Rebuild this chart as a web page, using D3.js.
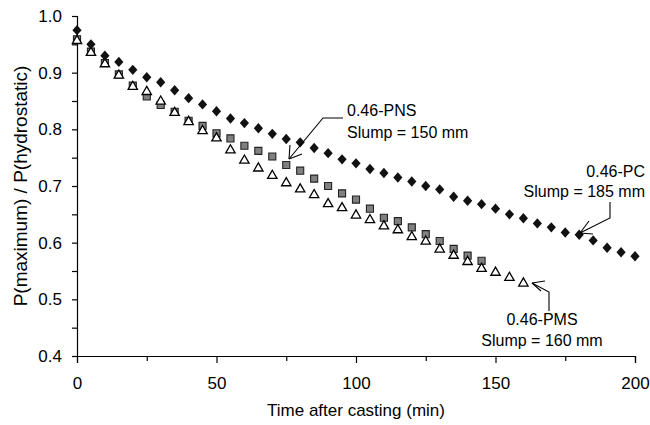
<!DOCTYPE html>
<html>
<head>
<meta charset="utf-8">
<script src="https://cdn.jsdelivr.net/npm/d3@7"></script>
<style>
  body { margin: 0; background: #fff; }
  svg { display: block; font-family: "Liberation Sans", Arial, sans-serif; }
  .axis text { font-size: 17px; fill: #000; }
  .axis path, .axis line { stroke: #000; stroke-width: 1.2; }
  .note { font-size: 16px; fill: #000; }
  .leader { stroke: #000; stroke-width: 1.1; fill: none; }
</style>
</head>
<body>
<div id="chart"></div>
<script>
// time after casting (min), 5 min steps
const timePC = d3.range(0, 201, 5);
const timePNS = d3.range(0, 146, 5);
const timePMS = d3.range(0, 161, 5);

// P(maximum) / P(hydrostatic)
const pc = [0.975, 0.950, 0.930, 0.919, 0.905, 0.892, 0.883, 0.869, 0.855, 0.844,
            0.832, 0.819, 0.811, 0.802, 0.792, 0.783, 0.777, 0.767, 0.758, 0.747,
            0.740, 0.730, 0.723, 0.715, 0.708, 0.700, 0.694, 0.681, 0.674, 0.668,
            0.660, 0.650, 0.643, 0.634, 0.627, 0.618, 0.614, 0.604, 0.591, 0.583, 0.576];
const pns = [0.959, 0.937, 0.917, 0.897, 0.877, 0.858, 0.843, 0.831, 0.815, 0.806,
             0.793, 0.784, 0.771, 0.762, 0.752, 0.737, 0.727, 0.713, 0.700, 0.687,
             0.676, 0.660, 0.644, 0.638, 0.627, 0.615, 0.603, 0.589, 0.577, 0.568];
const pms = [0.958, 0.937, 0.917, 0.897, 0.877, 0.868, 0.851, 0.831, 0.815, 0.799,
             0.786, 0.765, 0.747, 0.733, 0.720, 0.707, 0.696, 0.686, 0.670, 0.663,
             0.650, 0.642, 0.631, 0.624, 0.612, 0.604, 0.590, 0.579, 0.568, 0.556,
             0.549, 0.540, 0.530];

const xTicks = [0, 50, 100, 150, 200];
const yTicks = [0.4, 0.5, 0.6, 0.7, 0.8, 0.9, 1.0];

const width = 650, height = 425;
const margin = { top: 16, right: 15, bottom: 69, left: 77 };

const svg = d3.select('#chart').append('svg')
    .attr('width', width)
    .attr('height', height);

const x = d3.scaleLinear().domain([0, 200]).range([margin.left, width - margin.right]);
const y = d3.scaleLinear().domain([0.4, 1.0]).range([height - margin.bottom, margin.top]);

// minor ticks first, then major axes
svg.append('g')
    .attr('class', 'axis')
    .attr('transform', `translate(0,${y(0.4)})`)
    .call(d3.axisBottom(x).tickValues(d3.range(25, 200, 50)).tickSize(5).tickFormat(''))
    .call(g => g.select('.domain').remove());
svg.append('g')
    .attr('class', 'axis')
    .attr('transform', `translate(${x(0)},0)`)
    .call(d3.axisLeft(y).tickValues(d3.range(0.45, 1.0, 0.1)).tickSize(5).tickFormat(''))
    .call(g => g.select('.domain').remove());

svg.append('g')
    .attr('class', 'axis')
    .attr('transform', `translate(0,${y(0.4)})`)
    .call(d3.axisBottom(x).tickValues(xTicks).tickSizeOuter(0).tickSize(7).tickPadding(14));

svg.append('g')
    .attr('class', 'axis')
    .attr('transform', `translate(${x(0)},0)`)
    .call(d3.axisLeft(y).tickValues(yTicks).tickSizeOuter(0).tickSize(5).tickPadding(10).tickFormat(d3.format('.1f')));

// axis titles
svg.append('text')
    .attr('x', (x(0) + x(200)) / 2)
    .attr('y', 416)
    .attr('text-anchor', 'middle')
    .style('font-size', '17px')
    .text('Time after casting (min)');

svg.append('text')
    .attr('transform', `translate(27,${(y(0.4) + y(1.0)) / 2}) rotate(-90)`)
    .attr('text-anchor', 'middle')
    .style('font-size', '19px')
    .text('P(maximum) / P(hydrostatic)');

// markers
const diamond = {
    draw(ctx, size) {
        const w = 4.6, h = 5.2;
        ctx.moveTo(0, -h); ctx.lineTo(w, 0); ctx.lineTo(0, h); ctx.lineTo(-w, 0); ctx.closePath();
    }
};

svg.append('g').selectAll('path')
    .data(pns.map((v, i) => [timePNS[i], v]))
    .join('path')
    .attr('transform', d => `translate(${x(d[0])},${y(d[1])})`)
    .attr('d', d3.symbol(d3.symbolSquare, 50))
    .attr('fill', '#808080')
    .attr('stroke', '#222')
    .attr('stroke-width', 1.1);

svg.append('g').selectAll('path')
    .data(pms.map((v, i) => [timePMS[i], v]))
    .join('path')
    .attr('transform', d => `translate(${x(d[0])},${y(d[1]) + 1})`)
    .attr('d', d3.symbol(d3.symbolTriangle, 38))
    .attr('fill', '#fff')
    .attr('stroke', '#000')
    .attr('stroke-width', 1.3);

svg.append('g').selectAll('path')
    .data(pc.map((v, i) => [timePC[i], v]))
    .join('path')
    .attr('transform', d => `translate(${x(d[0])},${y(d[1])})`)
    .attr('d', d3.symbol(diamond))
    .attr('fill', '#111');

// annotations
function arrow(points, tip, heads) {
    svg.append('path').attr('class', 'leader').attr('d', d3.line()(points.concat([tip])));
    heads.forEach(h => {
        svg.append('path').attr('class', 'leader').attr('d', d3.line()([h, tip]));
    });
}

// 0.46-PNS
svg.append('text').attr('class', 'note').attr('x', 347).attr('y', 116).text('0.46-PNS');
svg.append('text').attr('class', 'note').attr('x', 347).attr('y', 138).text('Slump = 150 mm');
arrow([[343, 118], [323, 118]], [289, 159], [[290, 145], [302, 154]]);

// 0.46-PC
svg.append('text').attr('class', 'note').attr('x', 645).attr('y', 177).attr('text-anchor', 'end').text('0.46-PC');
svg.append('text').attr('class', 'note').attr('x', 645).attr('y', 197).attr('text-anchor', 'end').text('Slump = 185 mm');
arrow([[610, 202], [610, 218]], [580, 233], [[589, 221], [593, 234]]);

// 0.46-PMS
svg.append('text').attr('class', 'note').attr('x', 542).attr('y', 325).attr('text-anchor', 'middle').text('0.46-PMS');
svg.append('text').attr('class', 'note').attr('x', 542).attr('y', 346).attr('text-anchor', 'middle').text('Slump = 160 mm');
arrow([[549, 311], [549, 292]], [532, 283], [[545, 281], [541, 291]]);
</script>
</body>
</html>
